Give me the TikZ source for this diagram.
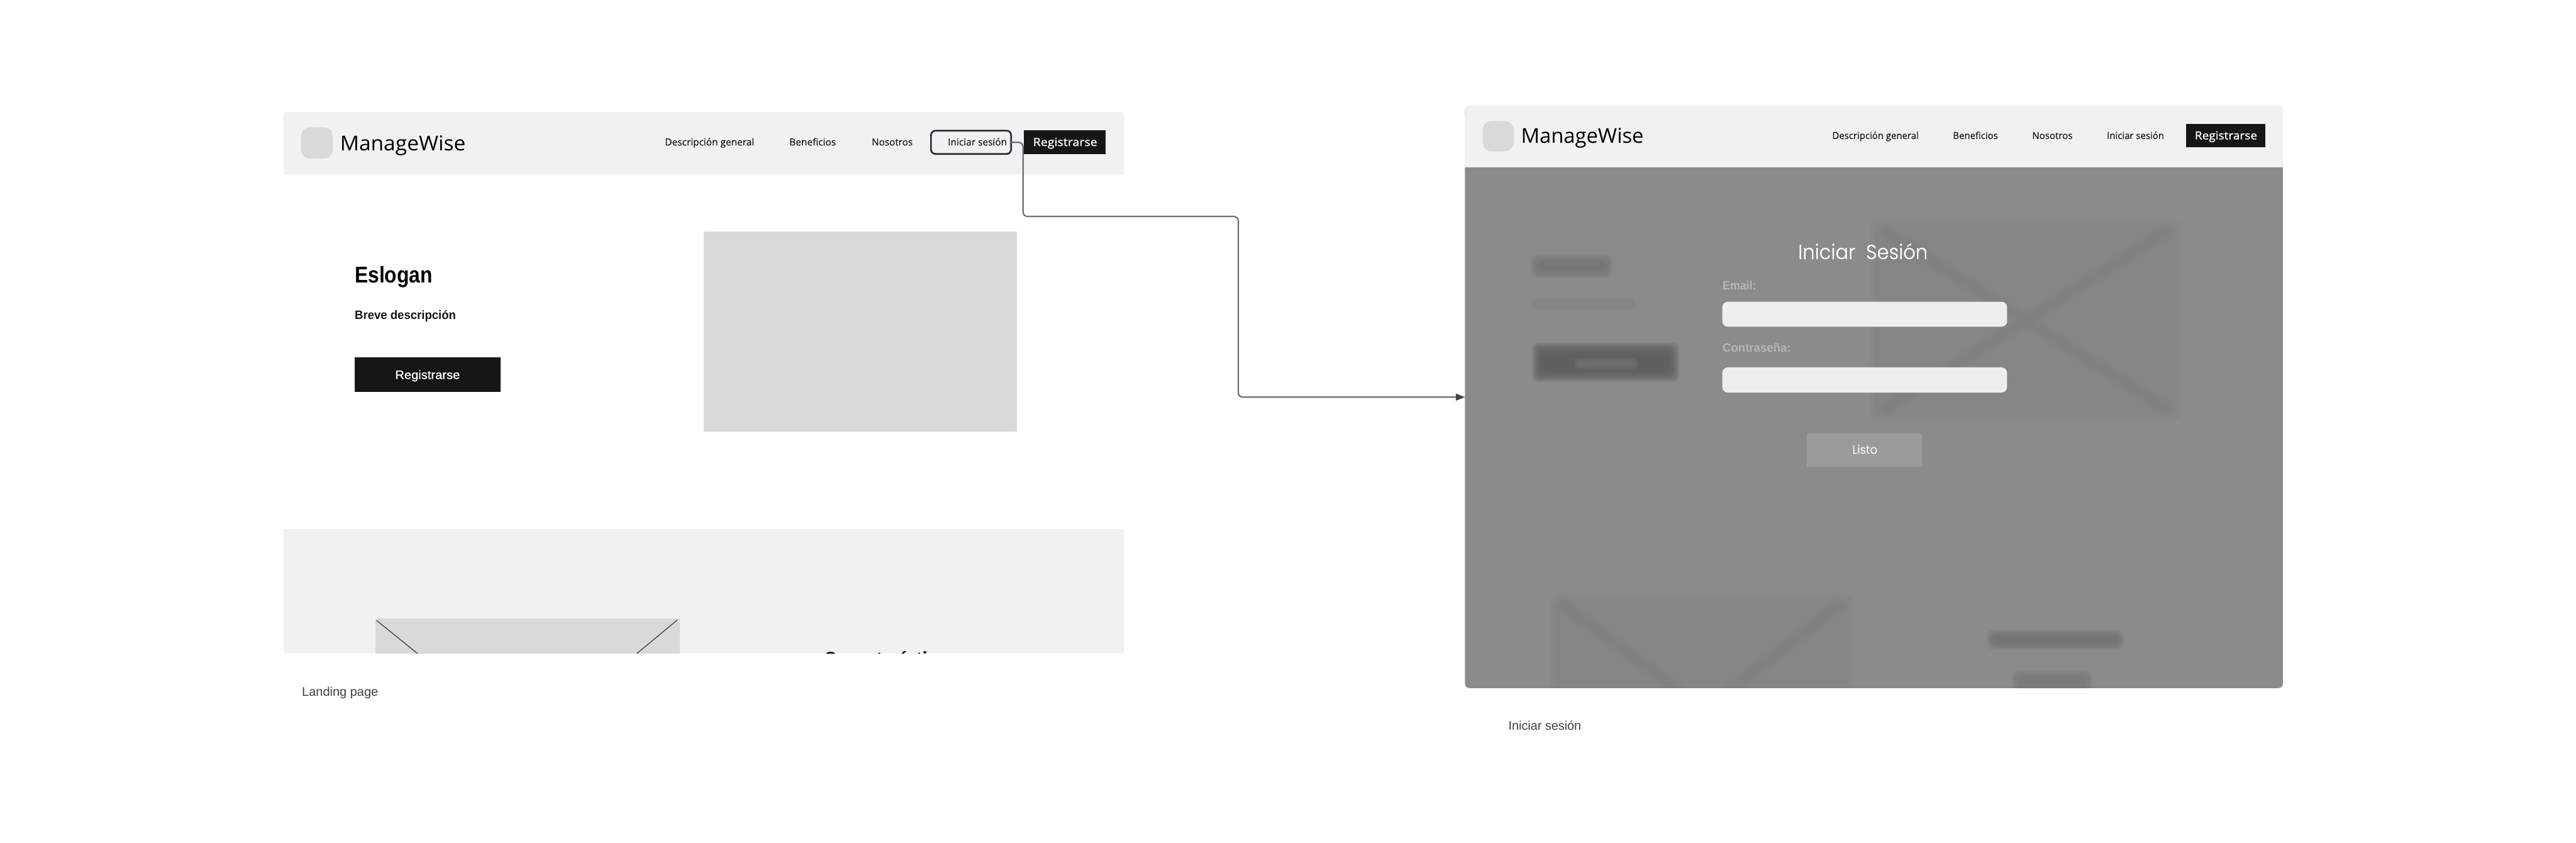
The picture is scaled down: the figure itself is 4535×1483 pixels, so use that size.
\documentclass[tikz,border=0pt]{standalone}
\usepackage{fontspec}
\usepackage{graphicx}
\usetikzlibrary{arrows.meta}
\newfontfamily\osf{Open Sans}
\newfontfamily\lib{Liberation Sans}
\newfontfamily\popf{Poppins}[UprightFont=* Light]
\newlength\upx \setlength\upx{0.01cm}
\definecolor{panel}{HTML}{F1F1F1}
\definecolor{holder}{HTML}{D9D9D9}
\definecolor{ink}{HTML}{161616}
\definecolor{veil}{HTML}{8B8B8B}
\definecolor{field}{HTML}{EEEEEE}
\definecolor{fieldlabel}{HTML}{B6B6B6}
\definecolor{okbtn}{HTML}{9B9B9B}
\definecolor{wire}{HTML}{6B6F78}
\definecolor{tip}{HTML}{3B4252}
\definecolor{caption}{HTML}{3B3F4A}
\definecolor{outline}{HTML}{2B2E36}
% box node by corners
\newcommand{\boxn}[6][]{\node[boxbase,#1,minimum width={(#5-#3)*\upx},minimum height={(#6-#4)*\upx}] (#2) at ({(#3+#5)/2},{(#4+#6)/2}) {};}
% text with exact width, kept height
\newcommand{\lab}[7]{\node[anchor=base west,inner sep=0pt,text=#6] (#1) at (#2,#3) {\resizebox{#4\upx}{\height}{#5#7}};}
% soft blurred block
\newcommand{\blurr}[6]{\foreach \k in {0,...,11}{\pgfmathsetmacro{\off}{#6*(0.6-\k*1.9/11)}\fill[#5,fill opacity=0.2,rounded corners=3pt] ({#1-\off},{#2-\off}) rectangle ({#3+\off},{#4+\off});}}
\newcommand{\blurl}[5]{\foreach \w in {28,22,16,10}{\draw[#5,draw opacity=0.16,line width=\w\upx] (#1,#2) -- (#3,#4);}}
\tikzset{
  boxbase/.style={inner sep=0pt,outer sep=0pt,draw=none},
  wirestyle/.style={draw=wire,line width=0.025cm,rounded corners=0.08cm,-{Triangle[length=0.16cm,width=0.12cm,fill=tip,color=tip]}}
}
\newcommand{\navf}{\osf\fontsize{4.84pt}{6pt}\selectfont\addfontfeature{FakeBold=0.25}}
\newcommand{\regf}{\osf\fontsize{5.6pt}{7pt}\selectfont\addfontfeature{FakeBold=1}}
\begin{document}
\begin{tikzpicture}[x=0.01cm,y=-0.01cm]
\useasboundingbox[fill=white] (0,0) rectangle (4535,1483);
% --- landing page ---
\fill[panel,rounded corners=6\upx] (499,197) rectangle (1979,240);
\fill[panel] (499,215) rectangle (1979,307);
\boxn[fill=holder,rounded corners=16\upx]{logoa}{530}{224}{586}{279}
\lab{brandA}{598}{265}{221}{\osf\fontsize{10.24pt}{12pt}\selectfont}{black}{ManageWise}
\lab{navA1}{1170}{256}{157}{\navf}{ink}{Descripción general}
\lab{navA2}{1389}{256}{82}{\navf}{ink}{Beneficios}
\lab{navA3}{1534}{256}{72}{\navf}{ink}{Nosotros}
\lab{navA4}{1668}{256}{104}{\navf}{ink}{Iniciar sesión}
\boxn[draw=outline,line width=3\upx,rounded corners=8\upx]{login}{1639}{230}{1780}{271}
\boxn[fill=ink]{regA}{1803}{229}{1946}{271}
\lab{regAt}{1818}{257}{113}{\regf}{white}{Registrarse}
\lab{slogan}{624}{498}{137}{\lib\bfseries\fontsize{11.4pt}{13pt}\selectfont}{black}{Eslogan}
\lab{brief}{624}{561.5}{178}{\lib\bfseries\fontsize{6.1pt}{7pt}\selectfont}{ink}{Breve descripción}
\boxn[fill=ink]{regB}{624}{629}{881.5}{690}
\lab{regBt}{695}{667}{114}{\lib\fontsize{6.1pt}{7pt}\selectfont\addfontfeature{FakeBold=0.8}}{white}{Registrarse}
\boxn[fill=holder]{heroimg}{1239}{408}{1790}{760}
% second section
\fill[panel] (499,931) rectangle (1979,1130);
\fill[panel,rounded corners=6\upx] (499,1100) rectangle (1979,1150);
\begin{scope}
\clip (499,931) rectangle (1979,1150);
\boxn[fill=holder]{featimg}{661}{1088}{1197}{1160}
\coordinate (dA1) at (663,1092);\coordinate (dA2) at (762,1172);
\coordinate (dB1) at (1192.5,1091);\coordinate (dB2) at (1095,1172);
\draw[black!70,line width=1.6\upx] (dA1) -- (dA2);
\draw[black!70,line width=1.6\upx] (dB1) -- (dB2);
\lab{feat}{1449}{1174}{239}{\lib\bfseries\fontsize{10.8pt}{13pt}\selectfont}{black}{Características}
\end{scope}
\lab{capA}{531}{1225}{134}{\lib\fontsize{6.26pt}{8pt}\selectfont}{caption}{Landing page}
% --- login frame ---
\boxn[fill=veil,rounded corners=8\upx]{frame}{2579}{187}{4019}{1211}
\blurr{3301}{396}{3831}{731}{black!48}{14}
\begin{scope}
\clip (3301,396) rectangle (3831,731);
\blurl{3315}{405}{3818}{722}{black!50}
\blurl{3818}{405}{3315}{722}{black!50}
\end{scope}
\blurr{2702}{455}{2832}{482}{black!54}{12}
\blurr{2702}{528}{2875}{541}{black!48}{9}
\blurr{2704}{610}{2949}{665}{black!63}{12}
\blurr{2775}{634}{2880}{646}{black!55}{8}
\begin{scope}
\clip (2579,1000) rectangle (4019,1211);
\blurr{2737}{1053}{3254}{1240}{black!48}{14}
\blurl{2745}{1060}{2975}{1230}{black!50}
\blurl{3245}{1060}{3025}{1230}{black!50}
\blurr{3504}{1114}{3733}{1138}{black!55}{10}
\blurr{3548}{1185}{3678}{1240}{black!52}{10}
\end{scope}
\fill[panel,rounded corners=8\upx] (2579,187) rectangle (4019,240);
\fill[panel] (2579,205) rectangle (4019,294);
\boxn[fill=holder,rounded corners=16\upx]{logob}{2610}{213}{2665}{266.5}
\lab{brandB}{2677}{252}{216}{\osf\fontsize{10.24pt}{12pt}\selectfont}{black}{ManageWise}
\lab{navB1}{3225}{244.6}{152}{\navf}{ink}{Descripción general}
\lab{navB2}{3437.5}{244.6}{79}{\navf}{ink}{Beneficios}
\lab{navB3}{3577}{244.6}{71}{\navf}{ink}{Nosotros}
\lab{navB4}{3708.5}{244.6}{100.5}{\navf}{ink}{Iniciar sesión}
\boxn[fill=ink]{regC}{3849}{218}{3988}{259}
\lab{regCt}{3863}{245.4}{110}{\regf}{white}{Registrarse}
\lab{title}{3165}{456}{228}{\popf\fontsize{10.2pt}{12pt}\selectfont\addfontfeature{FakeBold=0.3}}{white}{Iniciar\ \ Sesión}
\lab{email}{3032}{509.5}{59}{\lib\bfseries\fontsize{6pt}{7pt}\selectfont}{fieldlabel}{Email:}
\boxn[fill=field,rounded corners=10\upx]{inA}{3032}{531}{3533.5}{575}
\lab{pass}{3032}{620}{120}{\lib\bfseries\fontsize{6pt}{7pt}\selectfont}{fieldlabel}{Contraseña:}
\boxn[fill=field,rounded corners=10\upx]{inB}{3032}{646.5}{3533.5}{691}
\boxn[fill=okbtn]{ok}{3181}{762.5}{3384}{821.4}
\lab{okt}{3260.5}{798.6}{44}{\popf\fontsize{5.97pt}{7pt}\selectfont\addfontfeature{FakeBold=0.3}}{white}{Listo}
\lab{capB}{2655}{1285}{128}{\lib\fontsize{6.26pt}{8pt}\selectfont}{caption}{Iniciar sesión}
% connector
\coordinate (c1) at (1801,250.5);
\coordinate (c2) at (1801,381);
\coordinate (c3) at (2180,381);
\coordinate (c4) at (2180,699);
\draw[wirestyle] (login.east) -- (c1) -- (c2) -- (c3) -- (c4) -- (frame.west);
\end{tikzpicture}
\end{document}
